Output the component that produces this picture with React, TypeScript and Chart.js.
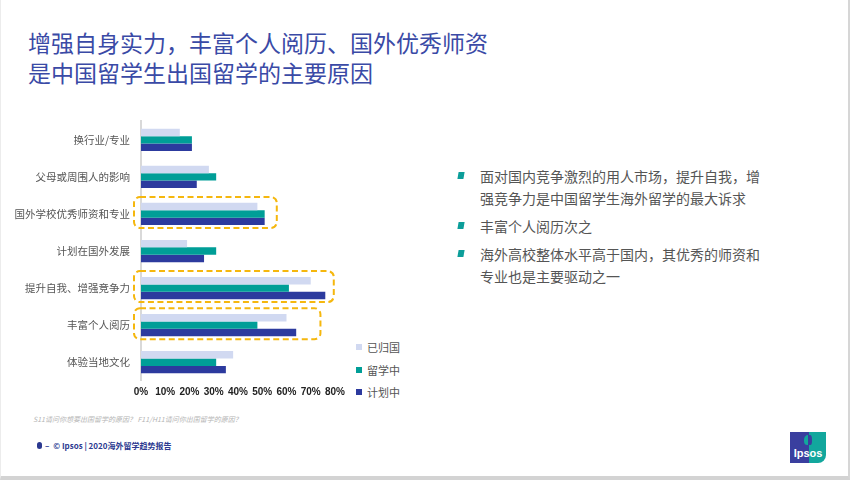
import React, { useEffect, useRef } from "react";
import { Chart, registerables } from "chart.js";

Chart.register(...registerables);

const categories = [
  "换行业/专业",
  "父母或周围人的影响",
  "国外学校优秀师资和专业",
  "计划在国外发展",
  "提升自我、增强竞争力",
  "丰富个人阅历",
  "体验当地文化",
];
const returned = [16, 28, 48, 19, 70, 60, 38];
const studying = [21, 31, 51, 31, 61, 48, 31];
const planning = [21, 23, 51, 26, 76, 64, 35];
const seriesNames = ["已归国", "留学中", "计划中"];
const xTicks = [0, 10, 20, 30, 40, 50, 60, 70, 80];
const highlightIndex = [2, 4, 5];
const highlightRight = [56, 79.5, 74];

const titleLines = ["增强自身实力，丰富个人阅历、国外优秀师资", "是中国留学生出国留学的主要原因"];
const bullets = [
  "面对国内竞争激烈的用人市场，提升自我，增强竞争力是中国留学生海外留学的最大诉求",
  "丰富个人阅历次之",
  "海外高校整体水平高于国内，其优秀的师资和专业也是主要驱动之一",
];
const footnote = "S11请问你想要出国留学的原因？ F11/H11请问你出国留学的原因？";

const COLORS = ["#D1D9F1", "#009E97", "#2C3A9E"];
const CJK = "'Noto Sans CJK SC', 'Noto Sans', sans-serif";

const boxPlugin = {
  id: "dashBoxes",
  afterDatasetsDraw(chart: any) {
    const { ctx, scales } = chart;
    const x = scales.x;
    const y = scales.y;
    ctx.save();
    ctx.strokeStyle = "#F5B70E";
    ctx.lineWidth = 2;
    ctx.setLineDash([6, 3.5]);
    highlightIndex.forEach((idx, i) => {
      const cy = y.getPixelForValue(idx);
      const left = chart.chartArea.left - 7;
      const right = x.getPixelForValue(highlightRight[i]);
      const top = cy - 17;
      const bottom = cy + 14;
      ctx.beginPath();
      ctx.roundRect(left, top, right - left, bottom - top, 6);
      ctx.stroke();
    });
    ctx.restore();
  },
};

function BarChart() {
  const ref = useRef<HTMLCanvasElement>(null);
  useEffect(() => {
    if (!ref.current) return;
    const chart = new Chart(ref.current, {
      type: "bar",
      data: {
        labels: categories,
        datasets: [
          { label: seriesNames[0], data: returned, backgroundColor: COLORS[0] },
          { label: seriesNames[1], data: studying, backgroundColor: COLORS[1] },
          { label: seriesNames[2], data: planning, backgroundColor: COLORS[2] },
        ],
      },
      options: {
        indexAxis: "y",
        responsive: false,
        animation: false,
        layout: { padding: { top: 9.25, right: 15, bottom: 0, left: 0 } },
        datasets: { bar: { categoryPercentage: 0.6, barPercentage: 1.0 } },
        plugins: { legend: { display: false }, tooltip: { enabled: false } },
        scales: {
          x: {
            min: 0,
            max: 80,
            afterBuildTicks: (s: any) => {
              s.ticks = xTicks.map((v) => ({ value: v }));
            },
            afterFit: (s: any) => {
              s.height = 18.25;
            },
            grid: { display: false, drawTicks: false },
            border: { display: false },
            ticks: {
              padding: 5,
              maxRotation: 0,
              minRotation: 0,
              autoSkip: false,
              color: "#222",
              font: { family: "'Liberation Sans', Arial, sans-serif", size: 10, weight: "bold" },
              callback: (v: any) => v + "%",
            },
          },
          y: {
            grid: { display: false, drawTicks: false },
            border: { display: true, color: "#D9D9D9", width: 2 },
            afterFit: (s: any) => {
              s.width = 141;
            },
            ticks: {
              padding: 11,
              color: "#555",
              font: { family: CJK, size: 10.5 },
            },
          },
        },
      } as any,
      plugins: [boxPlugin],
    });
    return () => chart.destroy();
  }, []);
  return <canvas ref={ref} width={350} height={295} style={{ position: "absolute", left: 0, top: 104 }} />;
}

export default function App() {
  return (
    <div style={{ position: "fixed", left: 0, top: 0, width: 853, height: 482, background: "#fff", overflow: "hidden", fontFamily: CJK }}>
      <div
        style={{
          position: "absolute",
          left: 0,
          top: 0,
          width: 847,
          height: 476,
          borderLeft: "1px solid #ececec",
          borderRight: "2px solid #d6d6d6",
          borderBottom: "4px solid #d3d3d3",
          background: "#fff",
        }}
      />
      <div style={{ position: "absolute", left: 28, top: 27, color: "#3A4AA6", fontSize: 23, lineHeight: "30px", whiteSpace: "nowrap" }}>
        {titleLines.map((t, i) => (
          <div key={i}>{t}</div>
        ))}
      </div>
      <BarChart />
      <div style={{ position: "absolute", left: 356, top: 336 }}>
        {seriesNames.map((n, i) => (
          <div key={i} style={{ display: "flex", alignItems: "center", height: 22.5, fontSize: 11, color: "#555" }}>
            <span style={{ display: "inline-block", width: 6, height: 6, background: COLORS[i], marginRight: 5 }} />
            {n}
          </div>
        ))}
      </div>
      <div style={{ position: "absolute", left: 458, top: 165, width: 320 }}>
        {bullets.map((b, i) => (
          <div key={i} style={{ display: "flex", marginBottom: 6 }}>
            <span
              style={{
                display: "inline-block",
                width: 6,
                height: 7,
                background: "#0C9E9A",
                transform: "skewX(-10deg)",
                marginTop: 7,
                marginRight: 16,
                flex: "none",
              }}
            />
            <div style={{ fontSize: 14, lineHeight: "22px", color: "#555", width: 292 }}>{b}</div>
          </div>
        ))}
      </div>
      <div style={{ position: "absolute", left: 33, top: 414, fontSize: 7, fontStyle: "italic", color: "#B4B4B4", whiteSpace: "nowrap" }}>
        {footnote}
      </div>
      <div style={{ position: "absolute", left: 37, top: 440, fontSize: 8, fontWeight: "bold", color: "#2B3990", whiteSpace: "nowrap", display: "flex", alignItems: "center" }}>
        <span style={{ display: "inline-block", width: 5, height: 7, borderRadius: 3, background: "#2B3990", marginRight: 3 }} />
        <span style={{ marginRight: 4 }}>–</span>
        <span>© Ipsos | 2020海外留学趋势报告</span>
      </div>
      <div
        style={{
          position: "absolute",
          left: 790,
          top: 432,
          width: 36,
          height: 31,
          background: "linear-gradient(90deg, #3A3F9F 0%, #3A3F9F 52%, #12A79D 52%, #12A79D 100%)",
          borderBottomRightRadius: 8,
        }}
      >
        <div style={{ position: "absolute", left: 14, top: 3, width: 8, height: 10, borderRadius: "50% 50% 40% 40%", background: "#12A79D" }} />
        <div style={{ position: "absolute", left: 18, top: 3, width: 4, height: 10, borderRadius: "0 50% 40% 0", background: "#3A3F9F" }} />
        <div style={{ position: "absolute", left: 0, width: 36, top: 15, textAlign: "center", color: "#fff", fontFamily: "'Liberation Sans', Arial, sans-serif", fontWeight: "bold", fontSize: 11 }}>
          Ipsos
        </div>
      </div>
    </div>
  );
}
